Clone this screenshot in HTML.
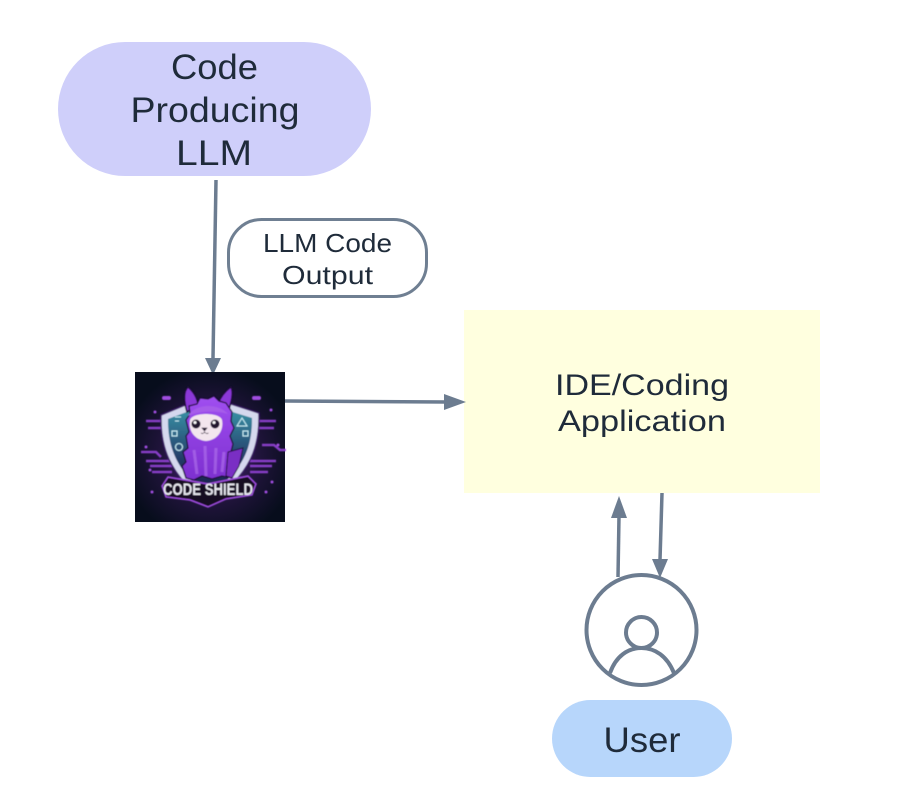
<!DOCTYPE html>
<html><head><meta charset="utf-8"><style>
html,body{margin:0;padding:0;background:#fff}
svg{display:block}
text{font-family:"Liberation Sans",sans-serif;fill:#1f2b3a}
</style></head><body>
<svg width="908" height="804" viewBox="0 0 908 804" xmlns="http://www.w3.org/2000/svg">
<defs>
<radialGradient id="glow" cx="50%" cy="55%" r="58%"><stop offset="0" stop-color="#5a2a90"/><stop offset=".55" stop-color="#21143c"/><stop offset="1" stop-color="#070d1c"/></radialGradient>
<linearGradient id="shield" x1="0" y1="0" x2="0" y2="1"><stop offset="0" stop-color="#3a98aa"/><stop offset=".6" stop-color="#243b68"/><stop offset="1" stop-color="#1a1a45"/></linearGradient>
<linearGradient id="fur" x1="0" y1="0" x2="0" y2="1"><stop offset="0" stop-color="#a04ff0"/><stop offset="1" stop-color="#7d2fd0"/></linearGradient>
<filter id="soft"><feGaussianBlur stdDeviation=".55"/></filter>
</defs>
<rect width="908" height="804" fill="#fff"/>

<rect x="58" y="42" width="313" height="134" rx="67" fill="#cfcffa"/>
<text x="214.500" y="79" font-size="35" text-anchor="middle" textLength="87" lengthAdjust="spacingAndGlyphs">Code</text>
<text x="215" y="122" font-size="35" text-anchor="middle" textLength="169" lengthAdjust="spacingAndGlyphs">Producing</text>
<text x="214" y="165" font-size="35" text-anchor="middle" textLength="76" lengthAdjust="spacingAndGlyphs">LLM</text>

<rect x="228.500" y="219.500" width="198" height="77" rx="33" fill="#fff" stroke="#6f7f92" stroke-width="3"/>
<text x="327.500" y="252" font-size="26" text-anchor="middle" textLength="129" lengthAdjust="spacingAndGlyphs">LLM Code</text>
<text x="327.500" y="284" font-size="26" text-anchor="middle" textLength="91" lengthAdjust="spacingAndGlyphs">Output</text>

<rect x="464" y="310" width="356" height="183" fill="#ffffdf"/>
<text x="642" y="395" font-size="30" text-anchor="middle" textLength="174" lengthAdjust="spacingAndGlyphs">IDE/Coding</text>
<text x="642" y="431" font-size="30" text-anchor="middle" textLength="168" lengthAdjust="spacingAndGlyphs">Application</text>

<!-- connectors -->
<g stroke="#6c7c90" stroke-width="3.500" fill="none">
<line x1="216" y1="180" x2="213" y2="358"/>
<line x1="285" y1="401" x2="446" y2="402"/>
<line x1="618" y1="577" x2="619" y2="516"/>
<line x1="662" y1="493" x2="660" y2="560"/>
</g>
<g fill="#6c7c90">
<polygon points="205,358 221,358 213,375"/>
<polygon points="444,394 444,410 466,402"/>
<polygon points="611,518 627,518 619,496"/>
<polygon points="652,559 668,559 660,578"/>
</g>

<!-- logo -->
<g>
<rect x="135" y="372" width="150" height="150" fill="url(#glow)"/>
<g filter="url(#soft)">
<g stroke="#9a45e0" stroke-width="2.500" fill="none" opacity=".85">
<path d="M146 421h22M148 428h20M146 461h24M150 466h22M152 472h20"/>
<path d="M252 421h24M254 428h20M250 461h26M250 466h22M250 472h18"/>
<path d="M141 452h15l5 5M262 445h12l6 5h6"/>
</g>
<g fill="#a04de0">
<rect x="162" y="396" width="9" height="4" rx="2"/><rect x="252" y="396" width="9" height="4" rx="2"/>
<circle cx="155" cy="412" r="1.500"/><circle cx="271" cy="410" r="1.500"/><circle cx="146" cy="447" r="1.500"/><circle cx="278" cy="445" r="1.500"/><circle cx="152" cy="492" r="1.500"/><circle cx="266" cy="492" r="1.500"/><circle cx="150" cy="470" r="1.500"/><circle cx="272" cy="482" r="1.500"/>
</g>
<path d="M161 415 L190 403 L208 399 L228 403 L259 413 C260 445 252 475 208 503 C168 475 160 445 161 415Z" fill="#d5d8ee" stroke="#3a1a66" stroke-width="1.500"/>
<path d="M168 419 L192 410 L208 406 L226 410 L252 418 C252 446 245 470 208 495 C175 470 168 446 168 419Z" fill="url(#shield)"/>
<g stroke="#c5ecf5" stroke-width="1.100" fill="none">
<path d="M242 418l-5 8h10Z"/><rect x="172" y="431" width="5" height="5"/><rect x="243" y="431" width="5" height="5"/><circle cx="179" cy="447" r="3.500"/><path d="M175 417h6M175 421h4"/>
</g>
<path d="M187 412 C183 398 184 391 188 387 C194 392 197 398 198 404 Z" fill="#8b37d8" stroke="#1c1038" stroke-width="1.500"/>
<path d="M228 412 C233 398 233 391 231 387 C224 392 220 398 218 404 Z" fill="#8b37d8" stroke="#1c1038" stroke-width="1.500"/>
<path d="M186 478 L182 466 L186 462 L183 452 L188 448 L186 436 L189 432 L186 420 L190 414 L189 406 L197 404 L200 398 L208 399 L214 396 L219 401 L226 403 L232 412 L231 421 L234 428 L230 436 L233 444 L231 452 L236 458 L233 466 L232 478 L222 476 L212 479 L202 476 L194 480Z" fill="url(#fur)" stroke="#1c1038" stroke-width="1.300"/>
<path d="M228 452 L243 448 L239 466 L232 478 L226 476Z" fill="#7a2fc4" stroke="#1c1038" stroke-width="1"/>
<path d="M190 420 C192 412 220 412 222 420 C224 430 218 440 206 441 C194 440 188 430 190 420Z" fill="#f3e6ee"/>
<path d="M188 416 C194 404 218 402 228 414 C218 411 202 410 188 416Z" fill="#a65bea"/>
<circle cx="196" cy="424" r="4.500" fill="#20122f"/><circle cx="215" cy="424" r="4.500" fill="#20122f"/>
<circle cx="195" cy="422.500" r="1.500" fill="#fff"/><circle cx="214" cy="422.500" r="1.500" fill="#fff"/>
<path d="M202 428h5l-2.500 3ZM201 433q2 1.500 3.500 -1q2 2.500 4 1" fill="#20122f" stroke="#20122f" stroke-width=".6"/>
<path d="M194 450l3 24M205 446l1 30M216 448l-1 26M224 452l-2 20" stroke="#bb80f0" stroke-width="3" opacity=".5"/>
<path d="M162 486 L168 477 L208 484 L248 476 L256 484 L252 495 L226 499 L208 507 L190 500 L166 497Z" fill="#120c24" stroke="#a04de0" stroke-width="1.500"/>
<text x="208" y="495" font-size="17" font-weight="700" text-anchor="middle" textLength="90" lengthAdjust="spacingAndGlyphs" style="fill:#e8e8f0">CODE SHIELD</text>
</g>
</g>

<!-- user icon -->
<g fill="none" stroke="#6c7c90" stroke-width="4">
<circle cx="641.500" cy="630" r="55"/>
<circle cx="641.500" cy="632.500" r="15.500"/>
<path d="M610 673 C616 656 628 648 641.500 648 C655 648 667 656 674 673"/>
</g>

<rect x="552" y="700" width="180" height="77" rx="38.500" fill="#b7d6fb"/>
<text x="642" y="752" font-size="35" text-anchor="middle" textLength="77" lengthAdjust="spacingAndGlyphs">User</text>
</svg>
</body></html>
